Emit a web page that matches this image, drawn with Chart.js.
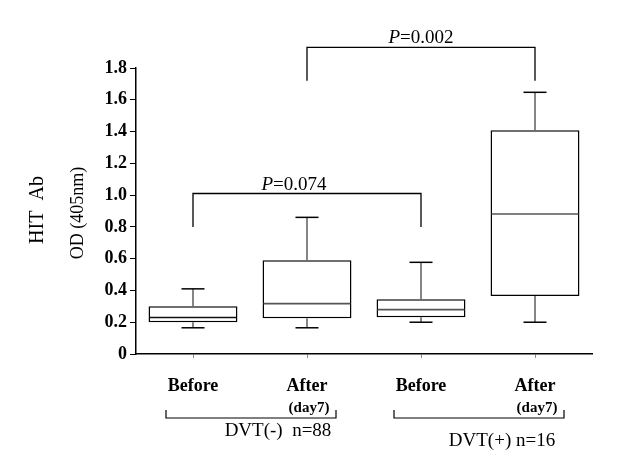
<!DOCTYPE html>
<html>
<head>
<meta charset="utf-8">
<script src="https://cdn.jsdelivr.net/npm/chart.js@4.4.1/dist/chart.umd.min.js"></script>
<style>
  html, body { margin: 0; padding: 0; background: #fff; }
  #wrap { width: 636px; height: 474px; }
</style>
</head>
<body>
<div id="wrap"><canvas id="chart" width="636" height="474"></canvas></div>
<script>
const categories = ["Before", "After", "Before", "After"];
const subLabels = ["", "(day7)", "", "(day7)"];
const whiskerLow = [0.165, 0.165, 0.2, 0.2];
const q1 = [0.2, 0.225, 0.231, 0.365];
const medians = [0.23, 0.317, 0.279, 0.881];
const q3 = [0.3, 0.59, 0.344, 1.408];
const whiskerHigh = [0.41, 0.86, 0.577, 1.647];
const yTicks = [0, 0.2, 0.4, 0.6, 0.8, 1.0, 1.2, 1.4, 1.6, 1.8];

// comparisons drawn above the boxes
const pValues = ["0.074", "0.002"];
const pFrom = [0, 1];
const pTo = [2, 3];
const pLevel = [1.01, 1.93];
const pLegEnd = [0.8, 1.72];

// groups under the axis
const groupNames = ["DVT(-)  n=88", "DVT(+) n=16"];
const groupFrom = [0, 2];
const groupTo = [1, 3];

const serif = "'Liberation Serif', 'Times New Roman', serif";

function line(ctx, x1, y1, x2, y2) {
  ctx.beginPath();
  ctx.moveTo(x1, y1);
  ctx.lineTo(x2, y2);
  ctx.stroke();
}

const boxExtras = {
  id: "boxExtras",
  afterDatasetsDraw(chart) {
    const { ctx } = chart;
    const x = chart.scales.x;
    const y = chart.scales.y;
    const capHalf = 11.5;
    ctx.save();
    categories.forEach((c, i) => {
      const cx = x.getPixelForValue(i);
      const meta = chart.getDatasetMeta(0).data[i];
      const halfW = meta.width / 2;
      // whisker stems
      ctx.strokeStyle = "#444";
      ctx.lineWidth = 1.3;
      line(ctx, cx, y.getPixelForValue(q3[i]), cx, y.getPixelForValue(whiskerHigh[i]));
      line(ctx, cx, y.getPixelForValue(q1[i]), cx, y.getPixelForValue(whiskerLow[i]));
      // caps
      ctx.strokeStyle = "#000";
      ctx.lineWidth = 1.5;
      const yh = y.getPixelForValue(whiskerHigh[i]);
      const yl = y.getPixelForValue(whiskerLow[i]);
      line(ctx, cx - capHalf, yh, cx + capHalf, yh);
      line(ctx, cx - capHalf, yl, cx + capHalf, yl);
      // median
      ctx.strokeStyle = i === 0 ? "#111" : "#555";
      ctx.lineWidth = 1.6;
      const ym = y.getPixelForValue(medians[i]);
      line(ctx, cx - halfW + 1, ym, cx + halfW - 1, ym);
    });
    ctx.restore();
  },
  afterDraw(chart) {
    const { ctx } = chart;
    const x = chart.scales.x;
    const y = chart.scales.y;
    ctx.save();
    ctx.strokeStyle = "#000";
    ctx.fillStyle = "#000";
    ctx.lineWidth = 1.3;

    // p-value brackets
    const textShift = [-13, 0];
    pValues.forEach((p, k) => {
      const x1 = x.getPixelForValue(pFrom[k]);
      const x2 = x.getPixelForValue(pTo[k]);
      const yl = y.getPixelForValue(pLevel[k]);
      const ye = y.getPixelForValue(pLegEnd[k]);
      ctx.beginPath();
      ctx.moveTo(x1, ye);
      ctx.lineTo(x1, yl);
      ctx.lineTo(x2, yl);
      ctx.lineTo(x2, ye);
      ctx.stroke();
      ctx.font = "italic 19px " + serif;
      const wP = ctx.measureText("P").width;
      ctx.font = "19px " + serif;
      const wRest = ctx.measureText("=" + p).width;
      const start = (x1 + x2) / 2 + textShift[k] - (wP + wRest) / 2;
      ctx.textBaseline = "alphabetic";
      ctx.textAlign = "left";
      ctx.font = "italic 19px " + serif;
      ctx.fillText("P", start, yl - 4);
      ctx.font = "19px " + serif;
      ctx.fillText("=" + p, start + wP, yl - 4);
    });

    // "(day7)" under the After labels
    ctx.font = "bold 15px " + serif;
    ctx.textAlign = "center";
    ctx.textBaseline = "middle";
    subLabels.forEach((s, i) => {
      if (s) ctx.fillText(s, x.getPixelForValue(i) + 2, 408);
    });

    // group brackets and names
    const nameDx = [27, 23];
    const nameY = [431, 441];
    ctx.lineWidth = 1.2;
    groupNames.forEach((g, k) => {
      const gx1 = x.getPixelForValue(groupFrom[k]) - 27;
      const gx2 = x.getPixelForValue(groupTo[k]) + 29;
      ctx.beginPath();
      ctx.moveTo(gx1, 410);
      ctx.lineTo(gx1, 418);
      ctx.lineTo(gx2, 418);
      ctx.lineTo(gx2, 410);
      ctx.stroke();
      ctx.font = "19px " + serif;
      ctx.fillText(g, (gx1 + gx2) / 2 + nameDx[k], nameY[k]);
    });

    // axis titles
    ctx.save();
    ctx.translate(38, 210);
    ctx.rotate(-Math.PI / 2);
    ctx.font = "20px " + serif;
    ctx.fillText("HIT  Ab", 0, 0);
    ctx.restore();
    ctx.save();
    ctx.translate(78, 213);
    ctx.rotate(-Math.PI / 2);
    ctx.font = "18px " + serif;
    ctx.fillText("OD (405nm)", 0, 0);
    ctx.restore();

    ctx.restore();
  }
};

new Chart(document.getElementById("chart"), {
  type: "bar",
  data: {
    labels: categories,
    datasets: [{
      data: categories.map((c, i) => [q1[i], q3[i]]),
      backgroundColor: "#fff",
      borderColor: "#000",
      borderWidth: 1.5,
      borderSkipped: false,
      barPercentage: 0.78,
      categoryPercentage: 1
    }]
  },
  options: {
    responsive: false,
    animation: false,
    events: [],
    layout: { padding: { top: 68, right: 44, left: 0, bottom: 0 } },
    plugins: {
      legend: { display: false },
      tooltip: { enabled: false }
    },
    scales: {
      x: {
        afterFit(scale) { scale.height = 120; },
        grid: { display: true, drawOnChartArea: false, drawTicks: true, tickLength: 4, color: "#888", offset: false },
        border: { display: true, color: "#000", width: 1.5 },
        ticks: {
          padding: 18,
          color: "#000",
          font: { family: serif, size: 18, weight: "bold" }
        }
      },
      y: {
        min: 0,
        max: 1.8,
        afterFit(scale) { scale.width = 136; },
        afterBuildTicks(scale) { scale.ticks = yTicks.map(v => ({ value: v })); },
        grid: { display: true, drawOnChartArea: false, drawTicks: true, tickLength: 6, color: "#000" },
        border: { display: true, color: "#000", width: 1.5 },
        ticks: {
          padding: 3,
          color: "#000",
          font: { family: serif, size: 18, weight: "bold" },
          callback: v => v === 0 ? "0" : v.toFixed(1)
        }
      }
    }
  },
  plugins: [boxExtras]
});
</script>
</body>
</html>
